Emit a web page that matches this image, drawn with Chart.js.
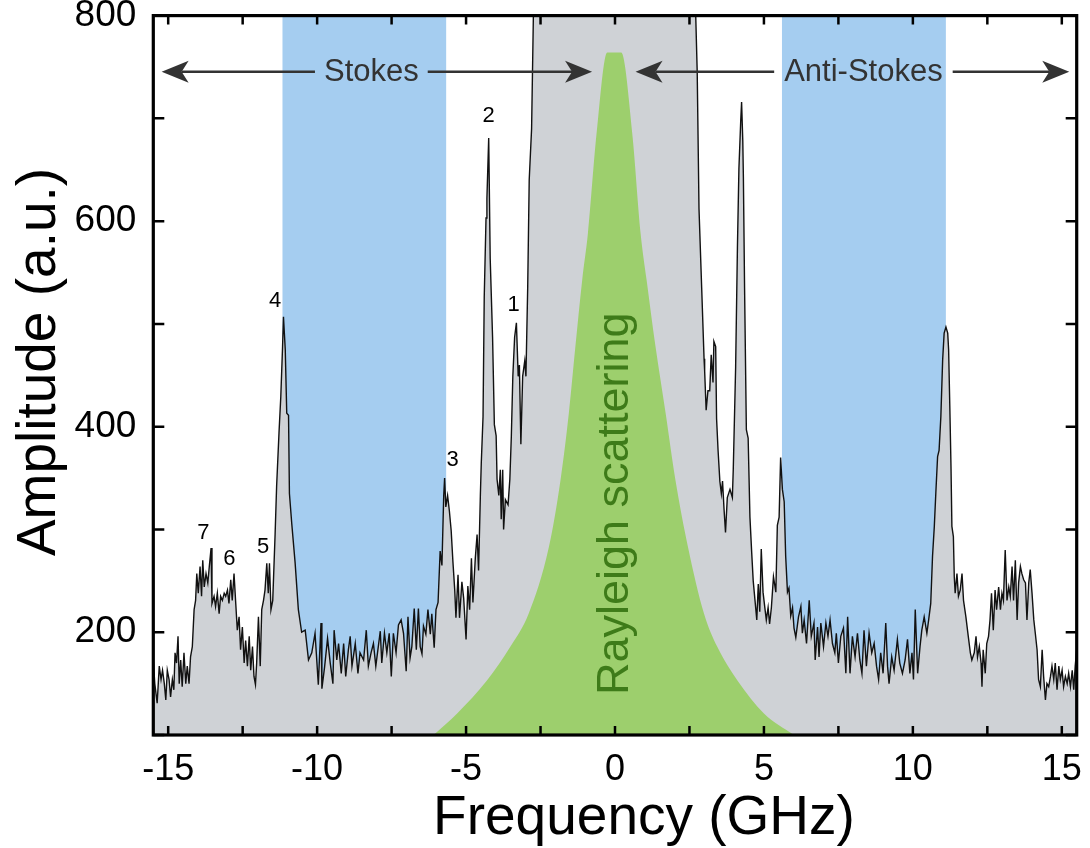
<!DOCTYPE html>
<html>
<head>
<meta charset="utf-8">
<script src="https://cdn.jsdelivr.net/npm/chart.js@4.4.1/dist/chart.umd.min.js"></script>
<style>
  html, body { margin: 0; padding: 0; background: #fff; }
</style>
</head>
<body>
<canvas id="spectrumChart" width="1090" height="848"></canvas>
<script>
// Brillouin spectrum: frequency (GHz) and amplitude (a.u.)
const freq = [
  -15.50, -15.45, -15.37, -15.30, -15.24, -15.19, -15.13, -15.08, -15.03, -14.97, -14.92, -14.86,
  -14.81, -14.77, -14.72, -14.67, -14.63, -14.58, -14.53, -14.47, -14.41, -14.36, -14.30, -14.25,
  -14.19, -14.13, -14.08, -14.04, -13.99, -13.93, -13.88, -13.84, -13.79, -13.73, -13.67, -13.62,
  -13.56, -13.53, -13.46, -13.41, -13.35, -13.29, -13.24, -13.18, -13.12, -13.07, -13.01, -12.96,
  -12.90, -12.85, -12.79, -12.73, -12.68, -12.62, -12.57, -12.51, -12.45, -12.40, -12.34, -12.28,
  -12.23, -12.17, -12.12, -12.07, -12.03, -11.97, -11.91, -11.86, -11.80, -11.75, -11.69, -11.64,
  -11.60, -11.55, -11.49, -11.41, -11.36, -11.28, -11.22, -11.16, -11.13, -11.07, -11.02, -10.96,
  -10.93, -10.85, -10.74, -10.63, -10.52, -10.40, -10.29, -10.18, -10.07, -9.96, -9.87, -9.84,
  -9.75, -9.65, -9.56, -9.47, -9.43, -9.34, -9.28, -9.19, -9.11, -9.04, -8.95, -8.89,
  -8.83, -8.72, -8.63, -8.56, -8.44, -8.35, -8.28, -8.19, -8.11, -8.03, -7.88, -7.83,
  -7.74, -7.66, -7.58, -7.51, -7.44, -7.35, -7.27, -7.18, -7.10, -7.01, -6.95, -6.88,
  -6.82, -6.74, -6.67, -6.60, -6.54, -6.48, -6.43, -6.35, -6.28, -6.20, -6.15, -6.07,
  -6.01, -5.94, -5.87, -5.81, -5.75, -5.72, -5.68, -5.62, -5.56, -5.50, -5.44, -5.38,
  -5.34, -5.27, -5.22, -5.14, -5.08, -5.00, -4.94, -4.88, -4.82, -4.77, -4.69, -4.63,
  -4.58, -4.52, -4.49, -4.43, -4.39, -4.33, -4.30, -4.24, -4.19, -4.11, -4.05, -3.99,
  -3.96, -3.90, -3.85, -3.82, -3.77, -3.74, -3.68, -3.59, -3.53, -3.48, -3.43, -3.37,
  -3.31, -3.25, -3.21, -3.16, -3.10, -3.03, -2.99, -2.93, -2.88, -2.80, -2.74, -2.60,
  -1.50, 0.00, 1.50, 2.60, 2.71, 2.76, 2.82, 2.91, 2.99, 3.01, 3.06, 3.12,
  3.18, 3.23, 3.29, 3.32, 3.38, 3.41, 3.46, 3.52, 3.57, 3.61, 3.66, 3.71,
  3.77, 3.86, 3.94, 3.97, 4.05, 4.11, 4.16, 4.22, 4.25, 4.29, 4.31, 4.35,
  4.41, 4.47, 4.53, 4.59, 4.64, 4.70, 4.76, 4.81, 4.86, 4.91, 4.97, 5.03,
  5.08, 5.14, 5.19, 5.25, 5.32, 5.40, 5.45, 5.51, 5.56, 5.62, 5.68, 5.73,
  5.79, 5.84, 5.90, 5.96, 6.01, 6.07, 6.16, 6.24, 6.29, 6.35, 6.43, 6.52,
  6.59, 6.68, 6.72, 6.80, 6.85, 6.91, 7.00, 7.08, 7.15, 7.22, 7.30, 7.38,
  7.43, 7.50, 7.58, 7.67, 7.75, 7.81, 7.89, 7.97, 8.06, 8.14, 8.22, 8.29,
  8.36, 8.44, 8.53, 8.62, 8.70, 8.78, 8.85, 8.92, 9.00, 9.09, 9.15, 9.20,
  9.29, 9.37, 9.48, 9.56, 9.65, 9.74, 9.82, 9.90, 9.97, 10.02, 10.08, 10.16,
  10.24, 10.30, 10.38, 10.47, 10.53, 10.60, 10.66, 10.72, 10.77, 10.83, 10.88, 10.94,
  11.00, 11.05, 11.11, 11.17, 11.20, 11.24, 11.28, 11.31, 11.36, 11.39, 11.42, 11.48,
  11.53, 11.59, 11.65, 11.70, 11.78, 11.86, 11.93, 11.98, 12.06, 12.12, 12.17, 12.23,
  12.29, 12.32, 12.36, 12.43, 12.48, 12.54, 12.59, 12.64, 12.70, 12.76, 12.81, 12.88,
  12.94, 12.99, 13.04, 13.10, 13.16, 13.22, 13.27, 13.33, 13.38, 13.44, 13.50, 13.55,
  13.61, 13.66, 13.72, 13.78, 13.83, 13.89, 13.94, 14.00, 14.06, 14.11, 14.17, 14.22,
  14.28, 14.34, 14.39, 14.45, 14.50, 14.56, 14.62, 14.67, 14.73, 14.78, 14.84, 14.90,
  14.95, 15.01, 15.06, 15.12, 15.18, 15.23, 15.29, 15.35, 15.40, 15.45, 15.50
];
const amp = [
  172, 150, 131, 167, 154, 163, 150, 134, 163, 154, 137, 154,
  144, 180, 170, 196, 150, 173, 147, 180, 150, 167, 150, 176,
  186, 222, 231, 257, 238, 264, 235, 270, 244, 257, 248, 264,
  282, 228, 235, 225, 238, 218, 235, 231, 238, 235, 241, 228,
  251, 231, 257, 227, 202, 215, 183, 205, 170, 192, 167, 196,
  163, 186, 157, 149, 170, 215, 167, 222, 231, 241, 267, 238,
  267, 222, 231, 296, 342, 394, 429, 478, 507, 475, 413, 411,
  335, 305, 268, 222, 200, 202, 173, 180, 199, 149, 209, 145,
  166, 194, 170, 150, 202, 173, 189, 160, 189, 157, 183, 196,
  167, 189, 160, 180, 173, 202, 167, 180, 189, 167, 201, 170,
  199, 180, 199, 157, 199, 180, 207, 212, 199, 162, 215, 175,
  186, 223, 183, 223, 186, 179, 206, 198, 222, 198, 218, 185,
  222, 229, 279, 265, 333, 350, 322, 333, 318, 299, 268, 241,
  214, 256, 214, 249, 233, 193, 245, 222, 272, 229, 272, 295,
  260, 333, 364, 410, 526, 603, 622, 681, 564, 487, 402, 391,
  349, 333, 358, 310, 358, 300, 329, 324, 349, 391, 449, 487,
  501, 449, 460, 383, 449, 464, 449, 537, 640, 690, 800, 900,
  1000, 1100, 1000, 900, 800, 745, 612, 535, 466, 454, 416, 435,
  435, 470, 443, 483, 478, 408, 377, 347, 335, 347, 320, 297,
  331, 339, 331, 358, 458, 574, 651, 697, 716, 678, 643, 535,
  397, 389, 312, 277, 250, 231, 212, 247, 220, 281, 239, 224,
  212, 224, 208, 224, 254, 239, 304, 312, 370, 339, 327, 274,
  239, 243, 216, 224, 204, 195, 215, 225, 199, 212, 189, 231,
  196, 209, 173, 205, 176, 209, 186, 209, 196, 212, 189, 180,
  199, 170, 196, 204, 160, 215, 160, 196, 176, 199, 173, 160,
  202, 167, 199, 180, 189, 167, 154, 180, 160, 209, 167, 150,
  176, 163, 193, 170, 160, 173, 193, 160, 180, 154, 222, 160,
  186, 202, 215, 199, 212, 228, 274, 303, 335, 371, 377, 410,
  465, 491, 497, 491, 475, 420, 361, 303, 293, 254, 238, 257,
  235, 241, 257, 231, 215, 196, 180, 173, 180, 196, 176, 186,
  170, 147, 183, 160, 189, 196, 212, 238, 202, 241, 222, 244,
  222, 238, 231, 280, 231, 244, 235, 264, 231, 270, 212, 248,
  264, 257, 251, 248, 212, 248, 261, 238, 212, 199, 183, 154,
  147, 183, 157, 134, 150, 147, 157, 167, 154, 170, 144, 167,
  154, 163, 147, 157, 150, 160, 147, 163, 144, 167, 183
];

// Rayleigh scattering envelope (green)
const rayleighFreq = [-6.09, -5.30, -4.30, -3.51, -2.90, -2.22, -1.83, -1.55, -1.33, -1.10, -0.91, -0.62, -0.26,
                      0.21, 0.58, 0.86, 1.06, 1.36, 1.70, 2.03, 2.45, 2.99, 3.43, 4.11, 5.00, 6.01];
const rayleighAmp  = [100, 121, 153, 186, 218, 283, 348, 413, 478, 543, 588, 685, 764,
                      764, 685, 588, 543, 478, 413, 348, 283, 218, 186, 153, 121, 100];

// shaded frequency windows
const stokesBand = [-11.17, -5.66];
const antiStokesBand = [5.60, 11.11];

// numbered peaks
const peakNames = ['1', '2', '3', '4', '5', '6', '7'];
const peakX = [-3.40, -4.24, -5.45, -11.41, -11.81, -12.95, -13.82];
const peakY = [518, 702, 368, 522, 283, 271, 297];

// axes
const xTicks = [-15, -12.5, -10, -7.5, -5, -2.5, 0, 2.5, 5, 7.5, 10, 12.5, 15];
const xLabels = [-15, -10, -5, 0, 5, 10, 15];
const yTicks = [100, 200, 300, 400, 500, 600, 700, 800];
const yLabels = [200, 400, 600, 800];

const FONT = "'Liberation Sans', Arial, Helvetica, sans-serif";
Chart.defaults.font.family = FONT;

const toPoints = (xs, ys) => xs.map((v, i) => ({ x: v, y: ys[i] }));
const band = (b) => [{ x: b[0], y: 800 }, { x: b[1], y: 800 }];

function arrowHead(ctx, tipX, tipY, dir) {
  ctx.beginPath();
  ctx.moveTo(tipX, tipY);
  ctx.lineTo(tipX - dir * 27, tipY - 11);
  ctx.lineTo(tipX - dir * 20, tipY);
  ctx.lineTo(tipX - dir * 27, tipY + 11);
  ctx.closePath();
  ctx.fill();
}

// keep the plot box where the figure has it (no extra room for edge labels)
function noScalePadding(s) {
  s.paddingTop = 0;
  s.paddingBottom = 0;
  s.paddingLeft = 0;
  s.paddingRight = 0;
}

// frame, inward ticks, arrows and labels
const decorations = {
  id: 'decorations',
  afterDatasetsDraw(chart) {
    const { ctx, chartArea: a, scales: { x, y } } = chart;
    ctx.save();

    // Stokes / Anti-Stokes arrows
    const arrows = [
      { text: 'Stokes', from: -15.22, to: -0.77, at: -8.18, gap: 9 },
      { text: 'Anti-Stokes', from: 0.69, to: 15.25, at: 8.34, gap: 10 }
    ];
    const ay = y.getPixelForValue(745.4);
    ctx.font = '31px ' + FONT;
    ctx.fillStyle = '#333';
    ctx.strokeStyle = '#333';
    ctx.lineWidth = 2.5;
    ctx.textAlign = 'center';
    ctx.textBaseline = 'middle';
    arrows.forEach(r => {
      const x0 = x.getPixelForValue(r.from);
      const x1 = x.getPixelForValue(r.to);
      const xc = x.getPixelForValue(r.at);
      const half = ctx.measureText(r.text).width / 2;
      ctx.beginPath();
      ctx.moveTo(x0 + 20, ay); ctx.lineTo(xc - half - r.gap, ay);
      ctx.moveTo(xc + half + r.gap, ay); ctx.lineTo(x1 - 20, ay);
      ctx.stroke();
      arrowHead(ctx, x0, ay, -1);
      arrowHead(ctx, x1, ay, 1);
      ctx.fillText(r.text, xc, ay + 1);
    });

    // peak numbers
    ctx.fillStyle = '#000';
    ctx.font = '22px ' + FONT;
    peakNames.forEach((n, i) => {
      ctx.fillText(n, x.getPixelForValue(peakX[i]), y.getPixelForValue(peakY[i]));
    });

    // Rayleigh label
    ctx.save();
    ctx.translate(x.getPixelForValue(0.42), y.getPixelForValue(325));
    ctx.rotate(-Math.PI / 2);
    ctx.fillStyle = '#3e7b19';
    ctx.font = '45px ' + FONT;
    ctx.textBaseline = 'alphabetic';
    ctx.fillText('Rayleigh scattering', 0, 0);
    ctx.restore();

    // inward tick marks on all four sides
    ctx.strokeStyle = '#000';
    ctx.lineWidth = 2.5;
    ctx.beginPath();
    xTicks.forEach(v => {
      const px = x.getPixelForValue(v);
      ctx.moveTo(px, a.bottom); ctx.lineTo(px, a.bottom - 9);
      ctx.moveTo(px, a.top); ctx.lineTo(px, a.top + 9);
    });
    yTicks.forEach(v => {
      const py = y.getPixelForValue(v);
      ctx.moveTo(a.left, py); ctx.lineTo(a.left + 11, py);
      ctx.moveTo(a.right, py); ctx.lineTo(a.right - 11, py);
    });
    ctx.stroke();

    // frame
    ctx.lineWidth = 3.2;
    ctx.strokeRect(a.left, a.top, a.right - a.left, a.bottom - a.top);

    // axis titles
    ctx.fillStyle = '#000';
    ctx.font = '55px ' + FONT;
    ctx.textAlign = 'center';
    ctx.textBaseline = 'alphabetic';
    ctx.fillText('Frequency (GHz)', 644, 834);
    ctx.save();
    ctx.translate(55, 362);
    ctx.rotate(-Math.PI / 2);
    ctx.fillText('Amplitude (a.u.)', 0, 0);
    ctx.restore();

    ctx.restore();
  }
};

const ctx = document.getElementById('spectrumChart').getContext('2d');

new Chart(ctx, {
  type: 'line',
  data: {
    datasets: [
      {
        label: 'Rayleigh scattering',
        data: toPoints(rayleighFreq, rayleighAmp),
        backgroundColor: '#9dcf6d',
        borderWidth: 0,
        pointRadius: 0,
        cubicInterpolationMode: 'monotone',
        fill: 'start'
      },
      {
        label: 'Spectrum',
        data: toPoints(freq, amp),
        backgroundColor: '#cfd2d6',
        borderColor: '#111',
        borderWidth: 1.4,
        pointRadius: 0,
        tension: 0,
        fill: 'start'
      },
      {
        label: 'Stokes band',
        data: band(stokesBand),
        backgroundColor: '#a5cdf0',
        borderWidth: 0,
        pointRadius: 0,
        fill: 'start'
      },
      {
        label: 'Anti-Stokes band',
        data: band(antiStokesBand),
        backgroundColor: '#a5cdf0',
        borderWidth: 0,
        pointRadius: 0,
        fill: 'start'
      }
    ]
  },
  options: {
    responsive: false,
    animation: false,
    devicePixelRatio: 1,
    layout: { padding: { top: 15.6, right: 13.3, left: 0, bottom: 0 } },
    plugins: {
      legend: { display: false },
      tooltip: { enabled: false }
    },
    scales: {
      x: {
        type: 'linear',
        min: -15.5,
        max: 15.5,
        grid: { display: false, drawTicks: false },
        border: { display: false },
        afterBuildTicks: (s) => { s.ticks = xTicks.map(v => ({ value: v })); },
        afterFit: (s) => { s.height = 113; noScalePadding(s); },
        ticks: {
          autoSkip: false,
          maxRotation: 0,
          padding: 13,
          color: '#000',
          font: { size: 36 },
          callback: (v) => xLabels.includes(v) ? String(v) : ''
        }
      },
      y: {
        type: 'linear',
        min: 100,
        max: 800,
        grid: { display: false, drawTicks: false },
        border: { display: false },
        afterBuildTicks: (s) => { s.ticks = yTicks.map(v => ({ value: v })); },
        afterFit: (s) => { s.width = 153.3; noScalePadding(s); },
        ticks: {
          autoSkip: false,
          padding: 17,
          color: '#000',
          font: { size: 37 },
          callback: (v) => yLabels.includes(v) ? String(v) : ''
        }
      }
    }
  },
  plugins: [decorations]
});
</script>
</body>
</html>
